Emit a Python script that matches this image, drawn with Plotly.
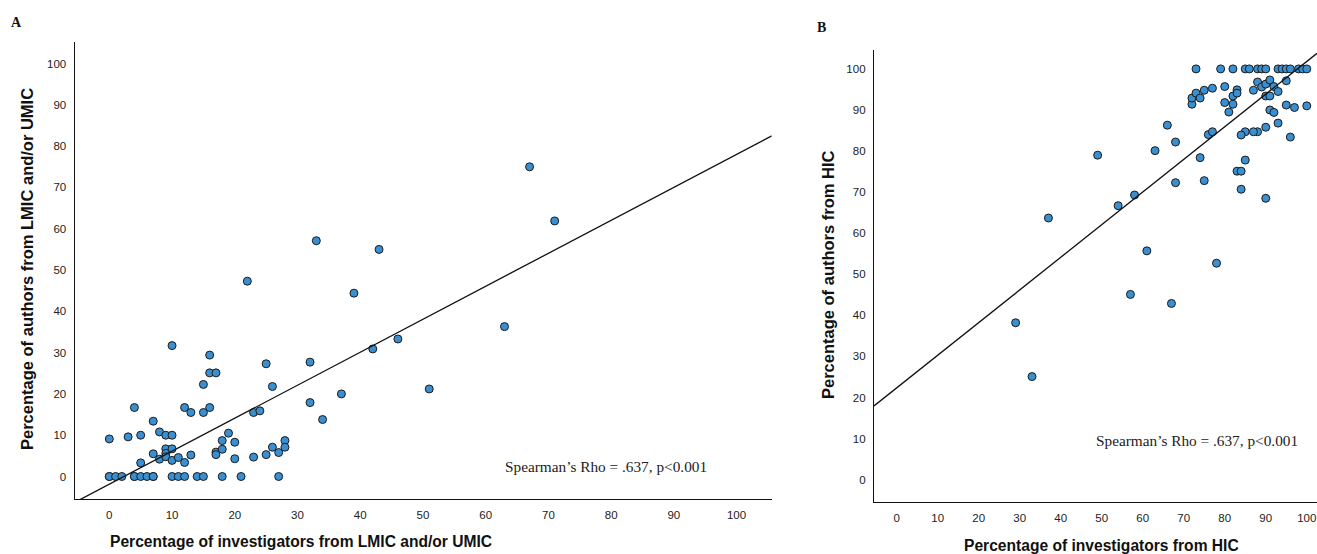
import plotly.graph_objects as go

# ---------------- Panel A data (LMIC and/or UMIC) ----------------
a_x = [0, 0, 1, 2, 4, 4, 5, 6, 7, 7, 10, 11, 12, 14, 15, 18, 21, 27,
       0, 3, 4, 5, 5, 7, 7, 8, 8, 9, 9, 9, 9, 10, 10, 10, 10, 11, 12, 12,
       13, 13, 15, 15, 16, 16, 16, 17, 17, 17, 18, 18, 19, 20, 20, 23, 23,
       24, 25, 25, 26, 26, 27, 28, 28, 32, 32, 34, 37,
       22, 33, 43, 39, 67, 71, 63, 46, 42, 51]
a_y = [0, 0, 0, 0, 0, 0, 0, 0, 0, 0, 0, 0, 0, 0, 0, 0, 0, 0,
       9.1, 9.6, 16.7, 10.0, 3.3, 13.4, 5.5, 10.8, 4.2, 10.0, 6.7, 5.6, 4.8, 31.7, 10.0, 6.7, 3.9, 4.6, 16.7, 3.4,
       15.5, 5.2, 15.5, 22.3, 16.7, 29.4, 25.1, 25.1, 5.9, 5.3, 8.7, 6.6, 10.5, 8.3, 4.3, 15.5, 4.7,
       15.9, 27.3, 5.3, 21.8, 7.1, 5.8, 8.7, 7.1, 27.7, 17.9, 13.8, 20.0,
       47.3, 57.1, 55.0, 44.4, 75.0, 61.9, 36.3, 33.3, 30.9, 21.2]
a_fit = [-1.86, 0.7987]          # intercept, slope
a_xrange = [-5.52, 105.6]
a_yrange = [-5.52, 105.3]

# ---------------- Panel B data (HIC) ----------------
b_x = [73, 79, 82, 85, 86, 88, 89, 90, 93, 94, 95, 96, 98, 99, 100,
       72, 72, 73, 74, 75, 77, 80, 80, 81, 82, 82, 83, 83,
       87, 88, 89, 90, 91, 90, 91, 92, 93, 95, 95, 97, 100,
       91, 92, 93, 90, 96, 88, 87, 85, 84, 76, 77,
       85, 83, 84, 84, 90, 66, 68, 63, 49, 74, 75, 68, 58, 54,
       37, 61, 78, 57, 67, 29, 33]
b_y = [100, 100, 100, 100, 100, 100, 100, 100, 100, 100, 100, 100, 100, 100, 100,
       91.4, 92.9, 94.1, 92.9, 94.8, 95.3, 95.7, 91.8, 89.5, 93.4, 91.4, 94.9, 94.1,
       94.8, 96.8, 95.6, 96.3, 97.3, 93.4, 93.4, 95.7, 94.5, 97.1, 91.2, 90.6, 91.0,
       90.0, 89.4, 86.8, 85.8, 83.4, 84.7, 84.7, 84.7, 83.9, 84.0, 84.7,
       77.8, 75.1, 75.1, 70.7, 68.5, 86.3, 82.2, 80.1, 79.0, 78.4, 72.8, 72.3, 69.3, 66.7,
       63.7, 55.7, 52.7, 45.1, 42.9, 38.2, 25.1]
b_fit = [22.35, 0.7946]
b_xrange = [-5.54, 102.5]
b_yrange = [-5.36, 104.6]

tick_vals = [0, 10, 20, 30, 40, 50, 60, 70, 80, 90, 100]
tick_text = [str(v) for v in tick_vals]

W, H = 1317, 554
MARK = "#3a8fd1"

fig = go.Figure()

marker = dict(size=8, color=MARK, line=dict(color="#1b1b1b", width=1))

fig.add_trace(go.Scatter(x=a_x, y=a_y, mode="markers", marker=marker,
                         xaxis="x", yaxis="y", showlegend=False, hoverinfo="x+y"))
fig.add_trace(go.Scatter(x=a_xrange, y=[a_fit[0] + a_fit[1] * v for v in a_xrange],
                         mode="lines", line=dict(color="#111111", width=1.3),
                         xaxis="x", yaxis="y", showlegend=False, hoverinfo="skip"))
fig.add_trace(go.Scatter(x=b_x, y=b_y, mode="markers", marker=marker,
                         xaxis="x2", yaxis="y2", showlegend=False, hoverinfo="x+y"))
fig.add_trace(go.Scatter(x=b_xrange, y=[b_fit[0] + b_fit[1] * v for v in b_xrange],
                         mode="lines", line=dict(color="#111111", width=1.3),
                         xaxis="x2", yaxis="y2", showlegend=False, hoverinfo="skip"))

tick_font = dict(family="Arial, Liberation Sans, sans-serif", size=11.5, color="#222222")

def ax(rng, domain, anchor):
    return dict(range=rng, domain=domain, anchor=anchor, showgrid=False, zeroline=False,
                showline=True, linecolor="#111111", linewidth=1.3,
                tickmode="array", tickvals=tick_vals, ticktext=tick_text,
                ticks="outside", ticklen=5, tickcolor="rgba(0,0,0,0)",
                tickfont=tick_font, fixedrange=True)

def px_x(p):
    return p / W

def px_y(p):
    return 1 - p / H

fig.update_layout(
    width=W, height=H,
    margin=dict(l=0, r=0, t=0, b=0),
    paper_bgcolor="white", plot_bgcolor="white",
    xaxis=ax(a_xrange, [px_x(74.7), px_x(771.7)], "y"),
    yaxis=ax(a_yrange, [px_y(499.3), px_y(41.7)], "x"),
    xaxis2=ax(b_xrange, [px_x(874), 1.0], "y2"),
    yaxis2=ax(b_yrange, [px_y(501.7), px_y(50)], "x2"),
)

xtitle_font = dict(family="Arial, Liberation Sans, sans-serif", size=15.6, color="#111111")
ytitle_font = dict(family="Arial, Liberation Sans, sans-serif", size=16.5, color="#111111")
serif = dict(family="Times New Roman, Liberation Serif, serif", size=15.3, color="#222222")
label_font = dict(family="Times New Roman, Liberation Serif, serif", size=14, color="#111111")

ann = [
    dict(text="<b>Percentage of investigators from LMIC and/or UMIC</b>", x=px_x(301), y=px_y(541),
         font=xtitle_font),
    dict(text="<b>Percentage of investigators from HIC</b>", x=px_x(1101), y=px_y(545),
         font=xtitle_font),
    dict(text="<b>Percentage of authors from LMIC and/or UMIC</b>", x=px_x(27), y=px_y(269),
         font=ytitle_font, textangle=-90),
    dict(text="<b>Percentage of authors from HIC</b>", x=px_x(828), y=px_y(275),
         font=ytitle_font, textangle=-90),
    dict(text="Spearman\u2019s Rho = .637, p<0.001", x=px_x(606), y=px_y(466), font=serif),
    dict(text="Spearman\u2019s Rho = .637, p<0.001", x=px_x(1197), y=px_y(440), font=serif),
    dict(text="<b>A</b>", x=px_x(16), y=px_y(22), font=label_font),
    dict(text="<b>B</b>", x=px_x(821), y=px_y(27), font=label_font),
]
for a in ann:
    a.update(xref="paper", yref="paper", showarrow=False, xanchor="center", yanchor="middle")
fig.update_layout(annotations=ann)

# Remove the default page margin so the 1317x554 figure fills the window exactly.
page_style = "document.body.style.margin='0';document.body.style.overflow='hidden';"
fig.write_html("out.html", post_script=page_style, config={"displayModeBar": False})
